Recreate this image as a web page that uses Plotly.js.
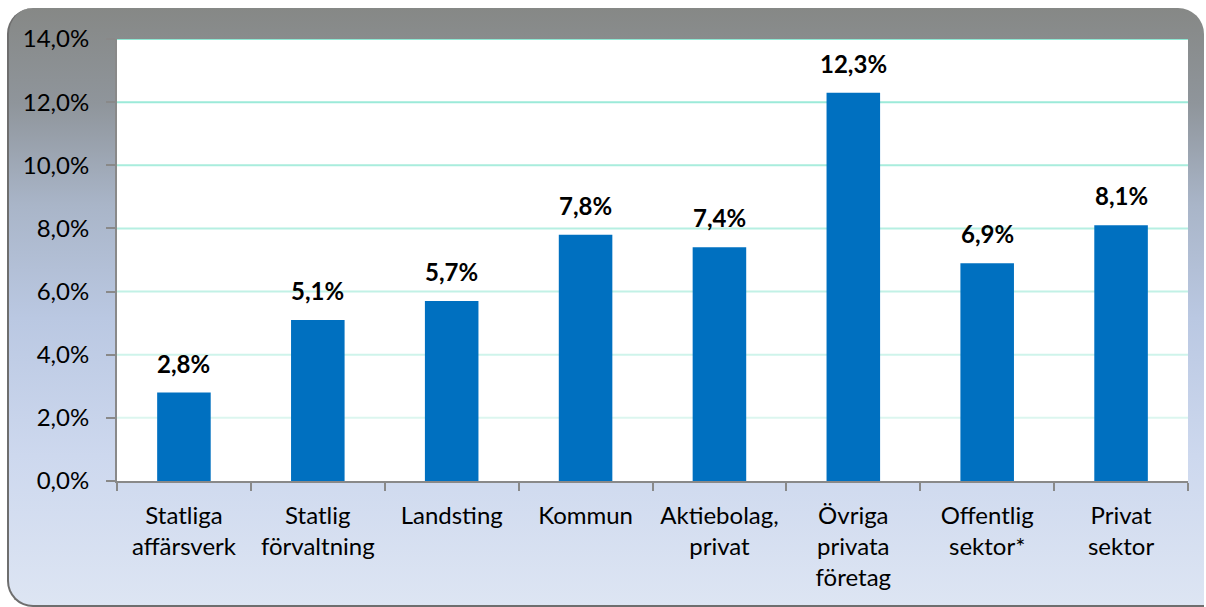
<!DOCTYPE html>
<html>
<head>
<meta charset="utf-8">
<script src="https://cdn.plot.ly/plotly-3.0.1.min.js"></script>
<style>
  html, body { margin: 0; padding: 0; width: 1206px; height: 607px; overflow: hidden; background: #ffffff; }
  #frame {
    position: absolute; left: 7px; top: 8px; width: 1197px; height: 599px;
    border-radius: 26px 26px 0 26px;
    border-left: 2px solid #6e6e6e; border-bottom: 2px solid #6e6e6e;
    box-sizing: border-box;
    background: linear-gradient(to bottom, #868886 0%, #8f959b 16%, #a9b5c8 33%, #bac8e2 52%, #cdd8ee 75%, #dde5f3 100%);
  }
  #chart { position: absolute; left: 0; top: 0; width: 1206px; height: 607px; }
</style>
</head>
<body>
<div id="frame"></div>
<div id="chart"></div>
<script>
const categories = [
  "Statliga<br>affärsverk",
  "Statlig<br>förvaltning",
  "Landsting",
  "Kommun",
  "Aktiebolag,<br>privat",
  "Övriga<br>privata<br>företag",
  "Offentlig<br>sektor*",
  "Privat<br>sektor"
];
const values = [2.8, 5.1, 5.7, 7.8, 7.4, 12.3, 6.9, 8.1];
const yTicks = [0, 2, 4, 6, 8, 10, 12, 14];

const fmt = v => v.toFixed(1).replace('.', ',') + '%';

// gridlines, fading from top to bottom
function mix(a, b, t) {
  const pa = [parseInt(a.slice(1,3),16), parseInt(a.slice(3,5),16), parseInt(a.slice(5,7),16)];
  const pb = [parseInt(b.slice(1,3),16), parseInt(b.slice(3,5),16), parseInt(b.slice(5,7),16)];
  return 'rgb(' + pa.map((c,i) => Math.round(c + (pb[i]-c)*t)).join(',') + ')';
}
const gridTicks = yTicks.filter(t => t > 0);
const maxT = Math.max(...gridTicks);
const shapes = gridTicks.map(t => ({
  type: 'line', xref: 'paper', x0: 0, x1: 1, yref: 'y', y0: t, y1: t,
  line: { color: mix('#dcf6ef', '#8fe8d4', (t - 2) / (maxT - 2)), width: 2 },
  layer: 'below'
}));

const FONT = 'Lato, sans-serif';

const annotations = categories.map((c, i) => ({
  x: c, y: values[i], xref: 'x', yref: 'y',
  text: '<b>' + fmt(values[i]) + '</b>',
  showarrow: false, yanchor: 'bottom', yshift: 13,
  font: { family: FONT, size: 24, color: '#000000' }
}));

const trace = {
  type: 'bar',
  x: categories,
  y: values,
  marker: { color: '#0070c0' },
  hoverinfo: 'none'
};

const layout = {
  width: 1206, height: 607,
  margin: { l: 117, r: 18, t: 39, b: 126 },
  paper_bgcolor: 'rgba(0,0,0,0)',
  plot_bgcolor: '#ffffff',
  separators: ',.',
  bargap: 0.6,
  showlegend: false,
  font: { family: FONT, size: 24, color: '#000000' },
  xaxis: {
    type: 'category',
    showline: true, linecolor: '#898989', linewidth: 2,
    ticks: 'outside', tickson: 'boundaries', ticklen: 8, tickwidth: 2, tickcolor: '#898989',
    showgrid: false,
    tickfont: { family: FONT, size: 24, color: '#000000' },
    ticklabelstandoff: 12
  },
  yaxis: {
    range: [0, 14],
    tickvals: yTicks,
    ticktext: yTicks.map(fmt),
    showline: true, linecolor: '#898989', linewidth: 2,
    ticks: 'outside', ticklen: 9, tickwidth: 2, tickcolor: '#898989',
    showgrid: false, zeroline: false,
    tickfont: { family: FONT, size: 24, color: '#000000' },
    ticklabelstandoff: 12
  },
  shapes: shapes,
  annotations: annotations
};

Plotly.newPlot('chart', [trace], layout, { displayModeBar: false, staticPlot: true });
</script>
</body>
</html>
